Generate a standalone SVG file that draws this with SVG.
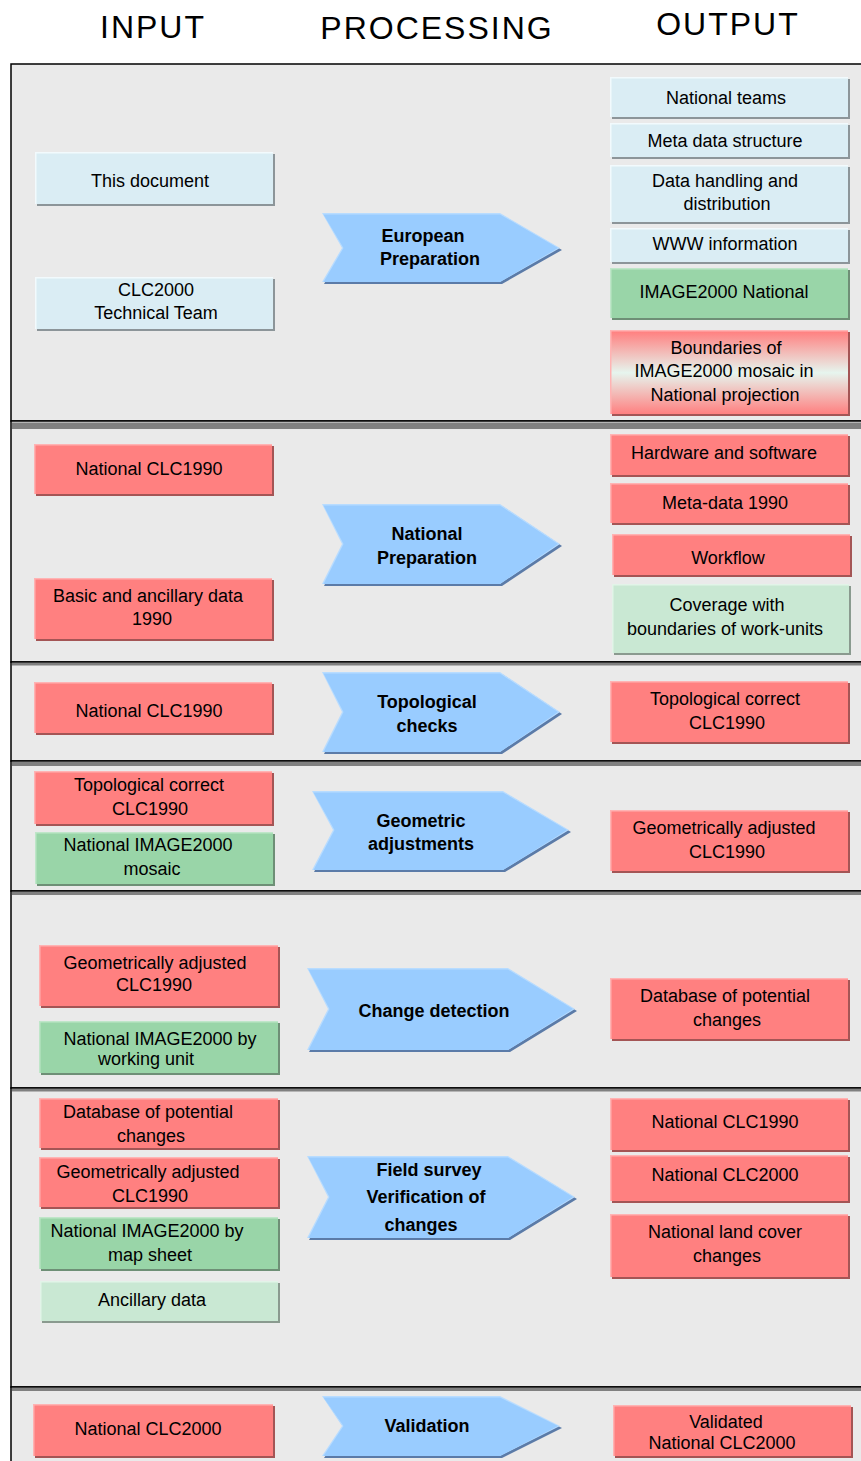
<svg xmlns="http://www.w3.org/2000/svg" width="861" height="1461" viewBox="0 0 861 1461">
<defs>
<linearGradient id="grad" x1="0" y1="0" x2="0" y2="1">
<stop offset="0" stop-color="#ff8080"/>
<stop offset="0.5" stop-color="#e6f5ee"/>
<stop offset="1" stop-color="#ff8080"/>
</linearGradient>
<style>
text{font-family:"Liberation Sans",Arial,sans-serif;font-size:18px;text-anchor:middle;fill:#000}
.h{font-size:32px;letter-spacing:2px}
.b{font-weight:bold}
.sec{fill:#eaeaea;stroke:#000;stroke-width:1.5}
.gb{fill:#808080}
.pk .l{fill:#ffb3b3}.pk .s{fill:#a45555}.pk .m{fill:#ff8080}
.lb .l{fill:#f2fafd}.lb .s{fill:#8c9599}.lb .m{fill:#daedf4}
.gr .l{fill:#bfe6c9}.gr .s{fill:#6e8f76}.gr .m{fill:#99d5a8}
.lg .l{fill:#e2f4e8}.lg .s{fill:#8a9a8f}.lg .m{fill:#c9e8d3}
.gd .l{fill:#ffb3b3}.gd .s{fill:#a45555}.gd .m{fill:url(#grad)}
.ar .s{fill:#5b7ba8}.ar .l{fill:#b8dcff}.ar .m{fill:#99ccff}
</style>
</defs>
<rect width="861" height="1461" fill="#fff"/>
<g id="headers">
<text class="h" x="153" y="38">INPUT</text>
<text class="h" x="437" y="39">PROCESSING</text>
<text class="h" x="728" y="35">OUTPUT</text>
</g>
<g id="sections">
<rect class="sec" x="11" y="64" width="870" height="357"/>
<rect class="sec" x="11" y="421" width="870" height="241"/>
<rect class="sec" x="11" y="662" width="870" height="99"/>
<rect class="sec" x="11" y="761" width="870" height="130"/>
<rect class="sec" x="11" y="891" width="870" height="197"/>
<rect class="sec" x="11" y="1088" width="870" height="299"/>
<rect class="sec" x="11" y="1387" width="870" height="90"/>
<rect class="gb" x="12" y="422.5" width="849" height="6.5"/>
<rect class="gb" x="12" y="663" width="849" height="2.5"/>
<rect class="gb" x="12" y="762" width="849" height="4"/>
<rect class="gb" x="12" y="892" width="849" height="3"/>
<rect class="gb" x="12" y="1089" width="849" height="2.5"/>
<rect class="gb" x="12" y="1388" width="849" height="3"/>
</g>
<g id="connectors"></g>

<!-- Section 1 -->
<g id="in-this-document" class="lb"><rect class="l" x="35" y="152" width="238" height="52"/><rect class="s" x="37" y="154" width="238" height="52"/><rect class="m" x="36.5" y="153.5" width="236.5" height="50.5"/><text x="150" y="187">This document</text></g>
<g id="in-clc2000-team" class="lb"><rect class="l" x="35" y="277" width="238" height="52"/><rect class="s" x="37" y="279" width="238" height="52"/><rect class="m" x="36.5" y="278.5" width="236.5" height="50.5"/><text x="156" y="296">CLC2000</text><text x="156" y="319">Technical Team</text></g>
<g id="proc-european" class="ar"><polygon class="s" points="324,215 502,215 562,250 502,284 324,284 344,250"/><polygon class="l" points="322,213 500,213 560,248 500,282 322,282 342,248"/><polygon class="m" points="323.5,214.5 500,214.5 558,248 500,282 323.5,282 343.5,248"/><text class="b" x="423" y="242">European</text><text class="b" x="430" y="265">Preparation</text></g>
<g id="out-national-teams" class="lb"><rect class="l" x="610" y="77" width="238" height="40"/><rect class="s" x="612" y="79" width="238" height="40"/><rect class="m" x="611.5" y="78.5" width="236.5" height="38.5"/><text x="726" y="104">National teams</text></g>
<g id="out-meta-structure" class="lb"><rect class="l" x="610" y="123" width="238" height="34"/><rect class="s" x="612" y="125" width="238" height="34"/><rect class="m" x="611.5" y="124.5" width="236.5" height="32.5"/><text x="725" y="147">Meta data structure</text></g>
<g id="out-data-handling" class="lb"><rect class="l" x="610" y="165" width="238" height="57"/><rect class="s" x="612" y="167" width="238" height="57"/><rect class="m" x="611.5" y="166.5" width="236.5" height="55.5"/><text x="725" y="187">Data handling and</text><text x="727" y="210">distribution</text></g>
<g id="out-www" class="lb"><rect class="l" x="610" y="228" width="238" height="34"/><rect class="s" x="612" y="230" width="238" height="34"/><rect class="m" x="611.5" y="229.5" width="236.5" height="32.5"/><text x="725" y="250">WWW information</text></g>
<g id="out-image2000-national" class="gr"><rect class="l" x="610" y="268" width="238" height="50"/><rect class="s" x="612" y="270" width="238" height="50"/><rect class="m" x="611.5" y="269.5" width="236.5" height="48.5"/><text x="724" y="298">IMAGE2000 National</text></g>
<g id="out-boundaries" class="gd"><rect class="l" x="610" y="330" width="238" height="84"/><rect class="s" x="612" y="332" width="238" height="84"/><rect class="m" x="611.5" y="331.5" width="236.5" height="82.5"/><text x="726" y="354">Boundaries of</text><text x="724" y="377">IMAGE2000 mosaic in</text><text x="725" y="401">National projection</text></g>

<!-- Section 2 -->
<g id="in-national-clc1990-a" class="pk"><rect class="l" x="34" y="444" width="238" height="50"/><rect class="s" x="36" y="446" width="238" height="50"/><rect class="m" x="35.5" y="445.5" width="236.5" height="48.5"/><text x="149" y="475">National CLC1990</text></g>
<g id="in-basic-ancillary" class="pk"><rect class="l" x="34" y="578" width="238" height="61"/><rect class="s" x="36" y="580" width="238" height="61"/><rect class="m" x="35.5" y="579.5" width="236.5" height="59.5"/><text x="148" y="602">Basic and ancillary data</text><text x="152" y="625">1990</text></g>
<g id="proc-national" class="ar"><polygon class="s" points="324,506 502,506 562,546 502,586 324,586 344,546"/><polygon class="l" points="322,504 500,504 560,544 500,584 322,584 342,544"/><polygon class="m" points="323.5,505.5 500,505.5 558,544 500,584 323.5,584 343.5,544"/><text class="b" x="427" y="540">National</text><text class="b" x="427" y="564">Preparation</text></g>
<g id="out-hardware" class="pk"><rect class="l" x="610" y="434" width="238" height="41"/><rect class="s" x="612" y="436" width="238" height="41"/><rect class="m" x="611.5" y="435.5" width="236.5" height="39.5"/><text x="724" y="459">Hardware and software</text></g>
<g id="out-metadata-1990" class="pk"><rect class="l" x="610" y="483" width="238" height="40"/><rect class="s" x="612" y="485" width="238" height="40"/><rect class="m" x="611.5" y="484.5" width="236.5" height="38.5"/><text x="725" y="509">Meta-data 1990</text></g>
<g id="out-workflow" class="pk"><rect class="l" x="612" y="534" width="238" height="41"/><rect class="s" x="614" y="536" width="238" height="41"/><rect class="m" x="613.5" y="535.5" width="236.5" height="39.5"/><text x="728" y="564">Workflow</text></g>
<g id="out-coverage" class="lg"><rect class="l" x="612" y="584" width="237" height="69"/><rect class="s" x="614" y="586" width="237" height="69"/><rect class="m" x="613.5" y="585.5" width="235.5" height="67.5"/><text x="727" y="611">Coverage with</text><text x="725" y="635">boundaries of work-units</text></g>

<!-- Section 3 -->
<g id="in-national-clc1990-b" class="pk"><rect class="l" x="34" y="682" width="238" height="51"/><rect class="s" x="36" y="684" width="238" height="51"/><rect class="m" x="35.5" y="683.5" width="236.5" height="49.5"/><text x="149" y="717">National CLC1990</text></g>
<g id="proc-topological" class="ar"><polygon class="s" points="324,674 502,674 562,714 502,754 324,754 344,714"/><polygon class="l" points="322,672 500,672 560,712 500,752 322,752 342,712"/><polygon class="m" points="323.5,673.5 500,673.5 558,712 500,752 323.5,752 343.5,712"/><text class="b" x="427" y="708">Topological</text><text class="b" x="427" y="732">checks</text></g>
<g id="out-topo-correct" class="pk"><rect class="l" x="610" y="681" width="238" height="61"/><rect class="s" x="612" y="683" width="238" height="61"/><rect class="m" x="611.5" y="682.5" width="236.5" height="59.5"/><text x="725" y="705">Topological correct</text><text x="727" y="729">CLC1990</text></g>

<!-- Section 4 -->
<g id="in-topo-correct" class="pk"><rect class="l" x="34" y="771" width="238" height="53"/><rect class="s" x="36" y="773" width="238" height="53"/><rect class="m" x="35.5" y="772.5" width="236.5" height="51.5"/><text x="149" y="791">Topological correct</text><text x="150" y="815">CLC1990</text></g>
<g id="in-image2000-mosaic" class="gr"><rect class="l" x="35" y="832" width="238" height="52"/><rect class="s" x="37" y="834" width="238" height="52"/><rect class="m" x="36.5" y="833.5" width="236.5" height="50.5"/><text x="148" y="851">National IMAGE2000</text><text x="152" y="875">mosaic</text></g>
<g id="proc-geometric" class="ar"><polygon class="s" points="314,793 505,793 571,832 505,872 314,872 335,832"/><polygon class="l" points="312,791 503,791 569,830 503,870 312,870 333,830"/><polygon class="m" points="313.5,792.5 503,792.5 567,830 503,870 313.5,870 334.5,830"/><text class="b" x="421" y="827">Geometric</text><text class="b" x="421" y="850">adjustments</text></g>
<g id="out-geo-adjusted" class="pk"><rect class="l" x="610" y="810" width="238" height="61"/><rect class="s" x="612" y="812" width="238" height="61"/><rect class="m" x="611.5" y="811.5" width="236.5" height="59.5"/><text x="724" y="834">Geometrically adjusted</text><text x="727" y="858">CLC1990</text></g>

<!-- Section 5 -->
<g id="in-geo-adjusted-a" class="pk"><rect class="l" x="39" y="945" width="239" height="61"/><rect class="s" x="41" y="947" width="239" height="61"/><rect class="m" x="40.5" y="946.5" width="237.5" height="59.5"/><text x="155" y="969">Geometrically adjusted</text><text x="154" y="991">CLC1990</text></g>
<g id="in-image2000-working-unit" class="gr"><rect class="l" x="39" y="1021" width="239" height="52"/><rect class="s" x="41" y="1023" width="239" height="52"/><rect class="m" x="40.5" y="1022.5" width="237.5" height="50.5"/><text x="160" y="1045">National IMAGE2000 by</text><text x="146" y="1065">working unit</text></g>
<g id="proc-change-detection" class="ar"><polygon class="s" points="309,970 510,970 577,1011 510,1052 309,1052 330,1011"/><polygon class="l" points="307,968 508,968 575,1009 508,1050 307,1050 328,1009"/><polygon class="m" points="308.5,969.5 508,969.5 573,1009 508,1050 308.5,1050 329.5,1009"/><text class="b" x="434" y="1017">Change detection</text></g>
<g id="out-db-potential" class="pk"><rect class="l" x="610" y="978" width="238" height="61"/><rect class="s" x="612" y="980" width="238" height="61"/><rect class="m" x="611.5" y="979.5" width="236.5" height="59.5"/><text x="725" y="1002">Database of potential</text><text x="727" y="1026">changes</text></g>

<!-- Section 6 -->
<g id="in-db-potential" class="pk"><rect class="l" x="39" y="1098" width="239" height="50"/><rect class="s" x="41" y="1100" width="239" height="50"/><rect class="m" x="40.5" y="1099.5" width="237.5" height="48.5"/><text x="148" y="1118">Database of potential</text><text x="151" y="1142">changes</text></g>
<g id="in-geo-adjusted-b" class="pk"><rect class="l" x="39" y="1157" width="239" height="50"/><rect class="s" x="41" y="1159" width="239" height="50"/><rect class="m" x="40.5" y="1158.5" width="237.5" height="48.5"/><text x="148" y="1178">Geometrically adjusted</text><text x="150" y="1202">CLC1990</text></g>
<g id="in-image2000-map-sheet" class="gr"><rect class="l" x="39" y="1217" width="239" height="52"/><rect class="s" x="41" y="1219" width="239" height="52"/><rect class="m" x="40.5" y="1218.5" width="237.5" height="50.5"/><text x="147" y="1237">National IMAGE2000 by</text><text x="150" y="1261">map sheet</text></g>
<g id="in-ancillary" class="lg"><rect class="l" x="40" y="1281" width="238" height="40"/><rect class="s" x="42" y="1283" width="238" height="40"/><rect class="m" x="41.5" y="1282.5" width="236.5" height="38.5"/><text x="152" y="1306">Ancillary data</text></g>
<g id="proc-field-survey" class="ar"><polygon class="s" points="309,1158 510,1158 577,1199 510,1240 309,1240 330,1199"/><polygon class="l" points="307,1156 508,1156 575,1197 508,1238 307,1238 328,1197"/><polygon class="m" points="308.5,1157.5 508,1157.5 573,1197 508,1238 308.5,1238 329.5,1197"/><text class="b" x="429" y="1176">Field survey</text><text class="b" x="426" y="1203">Verification of</text><text class="b" x="421" y="1231">changes</text></g>
<g id="out-national-clc1990" class="pk"><rect class="l" x="610" y="1098" width="238" height="52"/><rect class="s" x="612" y="1100" width="238" height="52"/><rect class="m" x="611.5" y="1099.5" width="236.5" height="50.5"/><text x="725" y="1128">National CLC1990</text></g>
<g id="out-national-clc2000" class="pk"><rect class="l" x="610" y="1155" width="238" height="46"/><rect class="s" x="612" y="1157" width="238" height="46"/><rect class="m" x="611.5" y="1156.5" width="236.5" height="44.5"/><text x="725" y="1181">National CLC2000</text></g>
<g id="out-land-cover-changes" class="pk"><rect class="l" x="610" y="1214" width="238" height="63"/><rect class="s" x="612" y="1216" width="238" height="63"/><rect class="m" x="611.5" y="1215.5" width="236.5" height="61.5"/><text x="725" y="1238">National land cover</text><text x="727" y="1262">changes</text></g>

<!-- Section 7 -->
<g id="in-national-clc2000" class="pk"><rect class="l" x="33" y="1404" width="240" height="52"/><rect class="s" x="35" y="1406" width="240" height="52"/><rect class="m" x="34.5" y="1405.5" width="238.5" height="50.5"/><text x="148" y="1435">National CLC2000</text></g>
<g id="proc-validation" class="ar"><polygon class="s" points="324,1398 502,1398 562,1428 502,1458 324,1458 344,1428"/><polygon class="l" points="322,1396 500,1396 560,1426 500,1456 322,1456 342,1426"/><polygon class="m" points="323.5,1397.5 500,1397.5 558,1426 500,1456 323.5,1456 343.5,1426"/><text class="b" x="427" y="1432">Validation</text></g>
<g id="out-validated" class="pk"><rect class="l" x="613" y="1405" width="238" height="51"/><rect class="s" x="615" y="1407" width="238" height="51"/><rect class="m" x="614.5" y="1406.5" width="236.5" height="49.5"/><text x="726" y="1428">Validated</text><text x="722" y="1449">National CLC2000</text></g>
</svg>
